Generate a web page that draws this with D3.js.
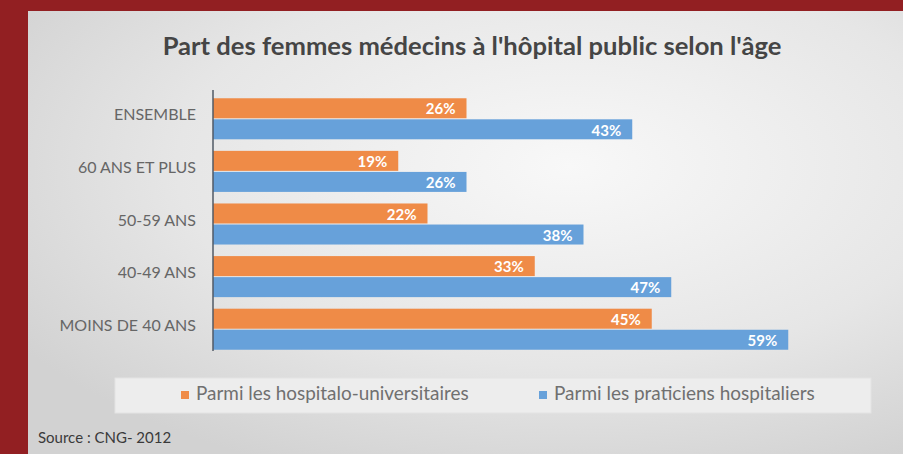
<!DOCTYPE html>
<html>
<head>
<meta charset="utf-8">
<style>
  body { margin: 0; background: #921f22; }
  svg { display: block; }
  text { font-family: Lato, 'Open Sans', sans-serif; }
</style>
</head>
<body>
<div id="chart"></div>
<script src="https://cdnjs.cloudflare.com/ajax/libs/d3/7.8.5/d3.min.js"></script>
<script>
  // data
  const categories = ["ENSEMBLE", "60 ANS ET PLUS", "50-59 ANS", "40-49 ANS", "MOINS DE 40 ANS"];
  const seriesNames = ["Parmi les hospitalo-universitaires", "Parmi les praticiens hospitaliers"];
  const hospitaloUniv = [26, 19, 22, 33, 45];
  const praticiensHosp = [43, 26, 38, 47, 59];
  const colors = ["#ef8b47", "#67a1da"];

  const width = 903, height = 454;
  const svg = d3.select("#chart").append("svg")
    .attr("width", width).attr("height", height);

  // scale the font so the text spans roughly the same width as in the picture
  function fitWidth(sel, target) {
    const fs = parseFloat(sel.style("font-size"));
    const w = sel.node().getComputedTextLength();
    sel.style("font-size", (fs * target / w) + "px");
  }

  // panel background
  const defs = svg.append("defs");
  const grad = defs.append("radialGradient").attr("id", "bg")
    .attr("cx", "62%").attr("cy", "35%").attr("r", "75%");
  grad.append("stop").attr("offset", "0%").attr("stop-color", "#f8f8f8");
  grad.append("stop").attr("offset", "60%").attr("stop-color", "#e6e6e6");
  grad.append("stop").attr("offset", "100%").attr("stop-color", "#d2d2d2");

  svg.append("rect").attr("x", 28).attr("y", 11)
    .attr("width", width - 28).attr("height", height - 11)
    .attr("fill", "url(#bg)");

  const title = svg.append("text")
    .attr("x", 472).attr("y", 55)
    .attr("text-anchor", "middle")
    .attr("fill", "#454545")
    .style("font-size", "22px")
    .style("font-weight", "bold")
    .text("Part des femmes médecins à l'hôpital public selon l'âge");
  fitWidth(title, 619);

  const x = d3.scaleLinear().domain([0, 60]).range([213, 798]);
  const y = d3.scaleBand().domain(categories).range([93, 355]).paddingInner(0.22).paddingOuter(0.1);
  const sub = d3.scaleBand().domain([0, 1]).range([0, y.bandwidth()]).paddingInner(0.05);

  const rows = categories.map((c, i) => ({ cat: c, vals: [hospitaloUniv[i], praticiensHosp[i]] }));

  const g = svg.append("g");
  const row = g.selectAll("g.row").data(rows).enter().append("g")
    .attr("transform", d => `translate(0,${y(d.cat)})`);

  row.selectAll("rect").data(d => d.vals).enter().append("rect")
    .attr("x", x(0))
    .attr("y", (d, i) => sub(i))
    .attr("width", d => x(d) - x(0))
    .attr("height", sub.bandwidth())
    .attr("fill", (d, i) => colors[i]);

  row.selectAll("text.val").data(d => d.vals).enter().append("text")
    .attr("class", "val")
    .attr("x", d => x(d) - 11)
    .attr("y", (d, i) => sub(i) + sub.bandwidth() / 2 + 1)
    .attr("dy", "0.35em")
    .attr("text-anchor", "end")
    .attr("fill", "#ffffff")
    .style("font-size", "15px")
    .style("font-weight", "bold")
    .text(d => d + "%");

  // category axis
  const axis = svg.append("g").attr("transform", `translate(${x(0)},0)`)
    .call(d3.axisLeft(y).tickSize(0).tickPadding(17));
  axis.select(".domain").attr("d", "M0,90V351").attr("stroke", "#505a66").attr("stroke-width", 1.5);
  axis.selectAll("text").attr("fill", "#666").style("font-size", "16px")
    .style("font-family", "Lato, sans-serif")
    .attr("dy", "0.1em");

  // legend
  svg.append("rect").attr("x", 115).attr("y", 378).attr("width", 756).attr("height", 35)
    .attr("fill", "#ededed").attr("stroke", "#e3e3e3");
  const legX = [181, 539];
  const legW = [273, 261];
  seriesNames.forEach((n, i) => {
    svg.append("rect").attr("x", legX[i]).attr("y", 391).attr("width", 8).attr("height", 8)
      .attr("fill", colors[i]);
    const t = svg.append("text").attr("x", legX[i] + 15).attr("y", 400)
      .attr("fill", "#707070").style("font-size", "16px").text(n);
    fitWidth(t, legW[i]);
  });

  svg.append("text").attr("x", 38).attr("y", 443)
    .attr("fill", "#3a3a3a").style("font-size", "15px")
    .text("Source : CNG- 2012");
</script>
</body>
</html>
